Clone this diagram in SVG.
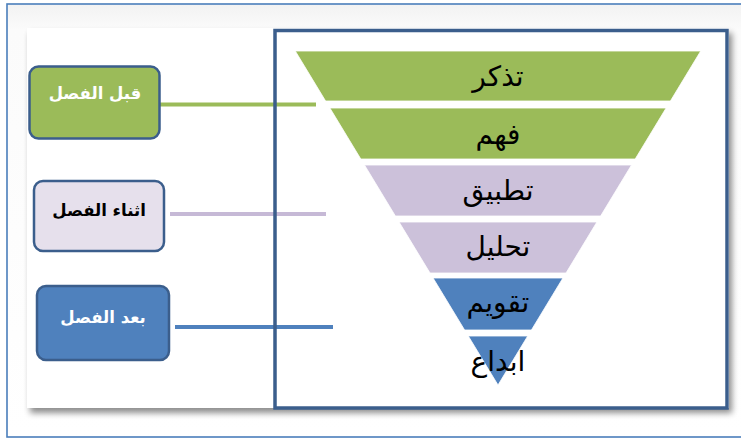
<svg xmlns="http://www.w3.org/2000/svg" width="741" height="439" viewBox="0 0 741 439">
<defs>
<filter id="sh" x="-5%" y="-5%" width="115%" height="115%">
<feGaussianBlur in="SourceAlpha" stdDeviation="3"/>
<feOffset dx="3" dy="5" result="b"/>
<feComponentTransfer><feFuncA type="linear" slope="0.45"/></feComponentTransfer>
<feMerge><feMergeNode/><feMergeNode in="SourceGraphic"/></feMerge>
</filter>
<linearGradient id="bg" x1="0" y1="0" x2="0" y2="1">
<stop offset="0" stop-color="#f2f2f2"/>
<stop offset="0.06" stop-color="#fbfbfb"/>
<stop offset="1" stop-color="#ffffff"/>
</linearGradient>
</defs>
<style>
.lvl{font-family:"DejaVu Sans",sans-serif;font-size:28px;fill:#000;text-anchor:middle}
.lbl{font-family:"DejaVu Sans",sans-serif;font-size:16.5px;font-weight:bold;text-anchor:middle}
.box{stroke:#3B5E8C;stroke-width:2.5}
.band{stroke:#ffffff;stroke-width:0.8}
.green{fill:#9BBB59}
.purple{fill:#CCC1DA}
.blue{fill:#4F81BD}
.conn{stroke-width:4;fill:none}
</style>
<rect x="0" y="0" width="741" height="439" fill="#ffffff"/>
<rect x="7" y="4" width="760" height="433" fill="url(#bg)" stroke="#4A7EBB" stroke-width="1.6"/>
<rect x="27" y="28" width="702" height="380" fill="#ffffff" filter="url(#sh)"/>
<g id="connectors">
<line class="conn" x1="159" y1="104.5" x2="316" y2="104.5" stroke="#9BBB59"/>
<line class="conn" x1="170" y1="214" x2="326" y2="214" stroke="#C6B9D6"/>
<line class="conn" x1="175" y1="327" x2="333" y2="327" stroke="#4F81BD"/>
</g>
<rect id="frame" x="275" y="30.5" width="452" height="377.5" fill="none" stroke="#3B5E8C" stroke-width="3.5"/>
<g id="pyramid">
<g id="l1"><polygon class="band green" points="295.3,51 700.7,51 670.4,101 325.6,101"/><text class="lvl" x="498" y="86">تذكر</text></g>
<g id="l2"><polygon class="band green" points="329.9,108 666.1,108 635.2,159 360.8,159"/><text class="lvl" x="498" y="144">فهم</text></g>
<g id="l3"><polygon class="band purple" points="364.5,165 631.5,165 600.6,216 395.4,216"/><text class="lvl" x="498" y="200">تطبيق</text></g>
<g id="l4"><polygon class="band purple" points="399.1,222 596.9,222 566,273 430,273"/><text class="lvl" x="498" y="256">تحليل</text></g>
<g id="l5"><polygon class="band blue" points="433.1,278 562.9,278 531.4,330 464.6,330"/><text class="lvl" x="498" y="312">تقويم</text></g>
<g id="l6"><polygon class="band blue" points="468.3,336 527.7,336 498,385"/><text class="lvl" x="498" y="371">ابداع</text></g>
</g>
<g id="before"><rect class="box" x="29.5" y="66.5" width="130" height="72" rx="9" fill="#9BBB59"/><text class="lbl" x="95" y="99" fill="#ffffff">قبل الفصل</text></g>
<g id="during"><rect class="box" x="34" y="181" width="130" height="70" rx="9" fill="#E6E0EC"/><text class="lbl" x="99" y="216" fill="#000000">اثناء الفصل</text></g>
<g id="after"><rect class="box" x="37" y="286" width="132" height="74" rx="9" fill="#4F81BD"/><text class="lbl" x="103" y="323" fill="#ffffff">بعد الفصل</text></g>
</svg>
